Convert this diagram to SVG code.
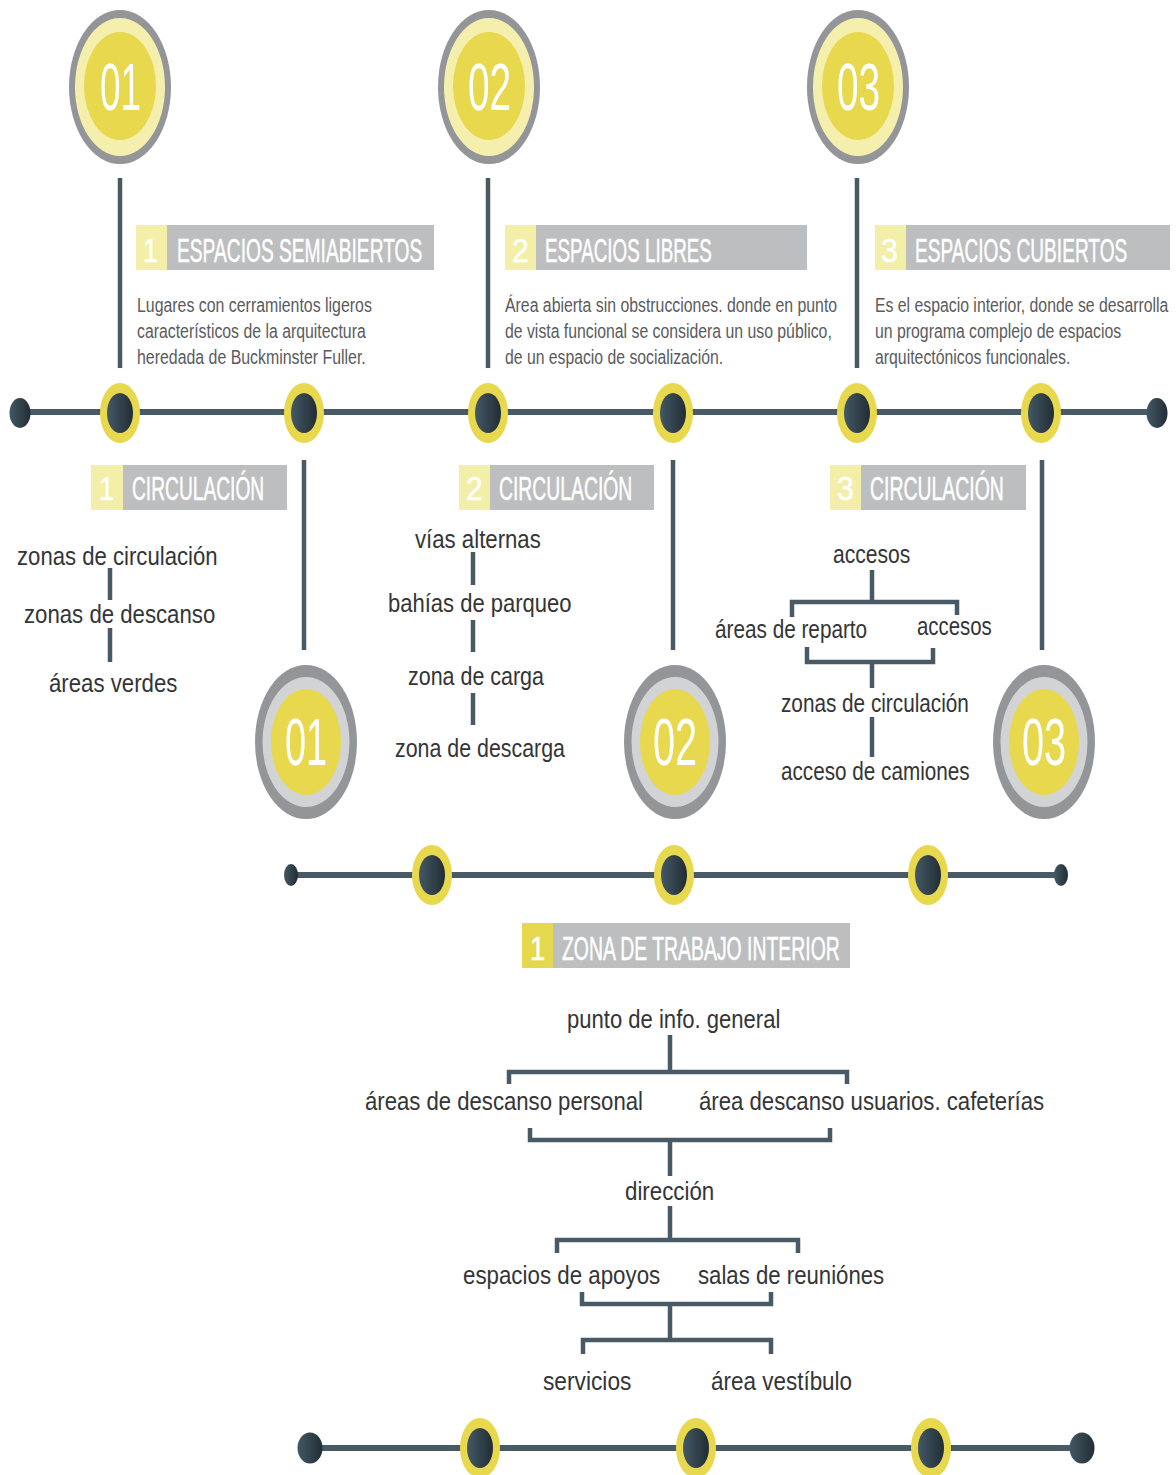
<svg xmlns="http://www.w3.org/2000/svg" width="1176" height="1475" viewBox="0 0 1176 1475">
<defs>
<linearGradient id="dk" x1="0" y1="0" x2="1" y2="0">
<stop offset="0" stop-color="#435865"/>
<stop offset="1" stop-color="#222d34"/>
</linearGradient>
<g id="dot"><ellipse rx="20" ry="30" fill="#e8d84e"/><ellipse rx="13" ry="20" fill="url(#dk)"/></g>
</defs>
<style>
.ln{stroke:#485a66;stroke-width:4.5;fill:none}
.tl{stroke:#485a66;stroke-width:6;fill:none}
.hd{font-family:"Liberation Sans",Arial,sans-serif;fill:#fff;stroke:#fff;stroke-width:0.5;font-size:33px}
.num{font-family:"Liberation Sans",Arial,sans-serif;fill:#fff;font-size:66px}
.ds{font-family:"Liberation Sans",Arial,sans-serif;fill:#5a5b5d;font-size:21px}
.tr{font-family:"Liberation Sans",Arial,sans-serif;fill:#333536;font-size:26px}
.gr{fill:#bcbec0}.py{fill:#f3eea8}.yy{fill:#e6d84e}
</style>
<rect width="1176" height="1475" fill="#fff"/>

<g id="connectors">
<line class="tl" x1="20" y1="412" x2="1157" y2="412"/>
<line class="tl" x1="291" y1="875" x2="1061" y2="875"/>
<line class="tl" x1="310" y1="1448" x2="1082" y2="1448"/>
<line class="ln" x1="120" y1="178" x2="120" y2="368"/>
<line class="ln" x1="488" y1="178" x2="488" y2="368"/>
<line class="ln" x1="857" y1="178" x2="857" y2="368"/>
<line class="ln" x1="304" y1="460" x2="304" y2="650"/>
<line class="ln" x1="673" y1="460" x2="673" y2="650"/>
<line class="ln" x1="1042" y1="460" x2="1042" y2="650"/>
<line class="ln" x1="110" y1="568" x2="110" y2="600"/>
<line class="ln" x1="110" y1="628" x2="110" y2="662"/>
<line class="ln" x1="473" y1="552" x2="473" y2="585"/>
<line class="ln" x1="473" y1="620" x2="473" y2="652"/>
<line class="ln" x1="473" y1="693" x2="473" y2="725"/>
<path class="ln" d="M872 570V602M792 617V602H957V615"/>
<path class="ln" d="M807 647V662H933V648M872 662V688"/>
<line class="ln" x1="872" y1="717" x2="872" y2="757"/>
<path class="ln" d="M670 1035V1072M509 1084V1072H847V1084"/>
<path class="ln" d="M530 1128V1140H830V1128M670 1140V1176"/>
<path class="ln" d="M670 1206V1240M557 1253V1240H798V1253"/>
<path class="ln" d="M582 1292V1304H771V1292M670 1304V1340M583 1354V1340H771V1354"/>
</g>

<g id="top-circles">
<g id="c01"><ellipse cx="120" cy="87" rx="51" ry="77" fill="#939598"/><ellipse cx="120" cy="87" rx="45" ry="69" fill="#f5efae"/><ellipse cx="120" cy="86" rx="36" ry="54" fill="#e8d84e"/><text class="num" transform="translate(100 110) scale(.52 1)" textLength="79" lengthAdjust="spacingAndGlyphs">01</text></g>
<g id="c02"><ellipse cx="489" cy="87" rx="51" ry="77" fill="#939598"/><ellipse cx="489" cy="87" rx="45" ry="69" fill="#f5efae"/><ellipse cx="489" cy="86" rx="36" ry="54" fill="#e8d84e"/><text class="num" transform="translate(468 110) scale(.52 1)" textLength="83" lengthAdjust="spacingAndGlyphs">02</text></g>
<g id="c03"><ellipse cx="858" cy="87" rx="51" ry="77" fill="#939598"/><ellipse cx="858" cy="87" rx="45" ry="69" fill="#f5efae"/><ellipse cx="858" cy="86" rx="36" ry="54" fill="#e8d84e"/><text class="num" transform="translate(837 110) scale(.52 1)" textLength="83" lengthAdjust="spacingAndGlyphs">03</text></g>
</g>

<g id="headers">
<g id="h1"><rect class="py" x="136" y="225" width="31" height="45"/><rect class="gr" x="167" y="225" width="267" height="45"/><text class="hd" transform="translate(143 262) scale(.56 1)" textLength="27" lengthAdjust="spacingAndGlyphs">1</text><text class="hd" transform="translate(177 262) scale(.56 1)" textLength="438" lengthAdjust="spacingAndGlyphs">ESPACIOS SEMIABIERTOS</text></g>
<g id="h2"><rect class="py" x="505" y="225" width="31" height="45"/><rect class="gr" x="536" y="225" width="271" height="45"/><text class="hd" transform="translate(512 262) scale(.56 1)" textLength="30" lengthAdjust="spacingAndGlyphs">2</text><text class="hd" transform="translate(545 262) scale(.56 1)" textLength="298" lengthAdjust="spacingAndGlyphs">ESPACIOS LIBRES</text></g>
<g id="h3"><rect class="py" x="875" y="225" width="31" height="45"/><rect class="gr" x="906" y="225" width="264" height="45"/><text class="hd" transform="translate(881 262) scale(.56 1)" textLength="30" lengthAdjust="spacingAndGlyphs">3</text><text class="hd" transform="translate(915 262) scale(.56 1)" textLength="379" lengthAdjust="spacingAndGlyphs">ESPACIOS CUBIERTOS</text></g>
</g>

<g id="descriptions">
<text class="ds" transform="translate(137 312) scale(.76 1)" textLength="309" lengthAdjust="spacingAndGlyphs">Lugares con cerramientos ligeros</text>
<text class="ds" transform="translate(137 338) scale(.76 1)" textLength="301" lengthAdjust="spacingAndGlyphs">característicos de la arquitectura</text>
<text class="ds" transform="translate(137 364) scale(.76 1)" textLength="301" lengthAdjust="spacingAndGlyphs">heredada de Buckminster Fuller.</text>
<text class="ds" transform="translate(505 312) scale(.76 1)" textLength="437" lengthAdjust="spacingAndGlyphs">Área abierta sin obstrucciones. donde en punto</text>
<text class="ds" transform="translate(505 338) scale(.76 1)" textLength="430" lengthAdjust="spacingAndGlyphs">de vista funcional se considera un uso público,</text>
<text class="ds" transform="translate(505 364) scale(.76 1)" textLength="287" lengthAdjust="spacingAndGlyphs">de un espacio de socialización.</text>
<text class="ds" transform="translate(875 312) scale(.76 1)" textLength="386" lengthAdjust="spacingAndGlyphs">Es el espacio interior, donde se desarrolla</text>
<text class="ds" transform="translate(875 338) scale(.76 1)" textLength="324" lengthAdjust="spacingAndGlyphs">un programa complejo de espacios</text>
<text class="ds" transform="translate(875 364) scale(.76 1)" textLength="257" lengthAdjust="spacingAndGlyphs">arquitectónicos funcionales.</text>
</g>

<g id="timeline-dots">
<ellipse cx="20" cy="413" rx="10.5" ry="15" fill="url(#dk)"/>
<ellipse cx="1157" cy="413" rx="10.5" ry="15" fill="url(#dk)"/>
<use href="#dot" x="120" y="413"/><use href="#dot" x="304" y="413"/><use href="#dot" x="488" y="413"/>
<use href="#dot" x="673" y="413"/><use href="#dot" x="857" y="413"/><use href="#dot" x="1041" y="413"/>
<ellipse cx="291" cy="875" rx="7" ry="11" fill="url(#dk)"/>
<ellipse cx="1061" cy="875" rx="7" ry="11" fill="url(#dk)"/>
<use href="#dot" x="432" y="875"/><use href="#dot" x="674" y="875"/><use href="#dot" x="928" y="875"/>
<ellipse cx="310" cy="1448" rx="12.5" ry="15.5" fill="url(#dk)"/>
<ellipse cx="1082" cy="1448" rx="12.5" ry="15.5" fill="url(#dk)"/>
<use href="#dot" x="480" y="1448"/><use href="#dot" x="696" y="1448"/><use href="#dot" x="931" y="1448"/>
</g>

<g id="circ-labels">
<g id="l1"><rect class="py" x="91" y="465" width="32" height="45"/><rect class="gr" x="123" y="465" width="164" height="45"/><text class="hd" transform="translate(99 500) scale(.56 1)" textLength="27" lengthAdjust="spacingAndGlyphs">1</text><text class="hd" transform="translate(132 500) scale(.56 1)" textLength="236" lengthAdjust="spacingAndGlyphs">CIRCULACIÓN</text></g>
<g id="l2"><rect class="py" x="459" y="465" width="31" height="45"/><rect class="gr" x="490" y="465" width="164" height="45"/><text class="hd" transform="translate(466 500) scale(.56 1)" textLength="30" lengthAdjust="spacingAndGlyphs">2</text><text class="hd" transform="translate(499 500) scale(.56 1)" textLength="238" lengthAdjust="spacingAndGlyphs">CIRCULACIÓN</text></g>
<g id="l3"><rect class="py" x="830" y="465" width="31" height="45"/><rect class="gr" x="861" y="465" width="165" height="45"/><text class="hd" transform="translate(837 500) scale(.56 1)" textLength="30" lengthAdjust="spacingAndGlyphs">3</text><text class="hd" transform="translate(870 500) scale(.56 1)" textLength="239" lengthAdjust="spacingAndGlyphs">CIRCULACIÓN</text></g>
<g id="l4"><rect class="yy" x="522" y="923" width="31" height="45"/><rect class="gr" x="553" y="923" width="297" height="45"/><text class="hd" transform="translate(530 960) scale(.56 1)" textLength="27" lengthAdjust="spacingAndGlyphs">1</text><text class="hd" transform="translate(562 960) scale(.56 1)" textLength="496" lengthAdjust="spacingAndGlyphs">ZONA DE TRABAJO INTERIOR</text></g>
</g>

<g id="tree1">
<text class="tr" transform="translate(17 565) scale(.85 1)" textLength="236" lengthAdjust="spacingAndGlyphs">zonas de circulación</text>
<text class="tr" transform="translate(24 623) scale(.85 1)" textLength="225" lengthAdjust="spacingAndGlyphs">zonas de descanso</text>
<text class="tr" transform="translate(49 692) scale(.85 1)" textLength="151" lengthAdjust="spacingAndGlyphs">áreas verdes</text>
</g>
<g id="tree2">
<text class="tr" transform="translate(415 548) scale(.85 1)" textLength="148" lengthAdjust="spacingAndGlyphs">vías alternas</text>
<text class="tr" transform="translate(388 612) scale(.85 1)" textLength="216" lengthAdjust="spacingAndGlyphs">bahías de parqueo</text>
<text class="tr" transform="translate(408 685) scale(.85 1)" textLength="160" lengthAdjust="spacingAndGlyphs">zona de carga</text>
<text class="tr" transform="translate(395 757) scale(.85 1)" textLength="200" lengthAdjust="spacingAndGlyphs">zona de descarga</text>
</g>
<g id="tree3">
<text class="tr" transform="translate(833 563) scale(.85 1)" textLength="91" lengthAdjust="spacingAndGlyphs">accesos</text>
<text class="tr" transform="translate(715 638) scale(.85 1)" textLength="179" lengthAdjust="spacingAndGlyphs">áreas de reparto</text>
<text class="tr" transform="translate(917 635) scale(.85 1)" textLength="88" lengthAdjust="spacingAndGlyphs">accesos</text>
<text class="tr" transform="translate(781 712) scale(.85 1)" textLength="221" lengthAdjust="spacingAndGlyphs">zonas de circulación</text>
<text class="tr" transform="translate(781 780) scale(.85 1)" textLength="222" lengthAdjust="spacingAndGlyphs">acceso de camiones</text>
</g>

<g id="bottom-circles">
<g id="b01"><ellipse cx="306" cy="742" rx="51" ry="77" fill="#939598"/><ellipse cx="306" cy="742" rx="43.5" ry="65" fill="#d1d3d4"/><ellipse cx="306" cy="742" rx="35" ry="53" fill="#e8d84e"/><text class="num" transform="translate(285 765) scale(.52 1)" textLength="81" lengthAdjust="spacingAndGlyphs">01</text></g>
<g id="b02"><ellipse cx="675" cy="742" rx="51" ry="77" fill="#939598"/><ellipse cx="675" cy="742" rx="43.5" ry="65" fill="#d1d3d4"/><ellipse cx="675" cy="742" rx="35" ry="53" fill="#e8d84e"/><text class="num" transform="translate(653 765) scale(.52 1)" textLength="85" lengthAdjust="spacingAndGlyphs">02</text></g>
<g id="b03"><ellipse cx="1044" cy="742" rx="51" ry="77" fill="#939598"/><ellipse cx="1044" cy="742" rx="43.5" ry="65" fill="#d1d3d4"/><ellipse cx="1044" cy="742" rx="35" ry="53" fill="#e8d84e"/><text class="num" transform="translate(1022 765) scale(.52 1)" textLength="85" lengthAdjust="spacingAndGlyphs">03</text></g>
</g>

<g id="tree4">
<text class="tr" transform="translate(567 1028) scale(.85 1)" textLength="251" lengthAdjust="spacingAndGlyphs">punto de info. general</text>
<text class="tr" transform="translate(365 1110) scale(.85 1)" textLength="327" lengthAdjust="spacingAndGlyphs">áreas de descanso personal</text>
<text class="tr" transform="translate(699 1110) scale(.85 1)" textLength="406" lengthAdjust="spacingAndGlyphs">área descanso usuarios. cafeterías</text>
<text class="tr" transform="translate(625 1200) scale(.85 1)" textLength="105" lengthAdjust="spacingAndGlyphs">dirección</text>
<text class="tr" transform="translate(463 1284) scale(.85 1)" textLength="232" lengthAdjust="spacingAndGlyphs">espacios de apoyos</text>
<text class="tr" transform="translate(698 1284) scale(.85 1)" textLength="219" lengthAdjust="spacingAndGlyphs">salas de reuniónes</text>
<text class="tr" transform="translate(543 1390) scale(.85 1)" textLength="104" lengthAdjust="spacingAndGlyphs">servicios</text>
<text class="tr" transform="translate(711 1390) scale(.85 1)" textLength="166" lengthAdjust="spacingAndGlyphs">área vestíbulo</text>
</g>
</svg>
